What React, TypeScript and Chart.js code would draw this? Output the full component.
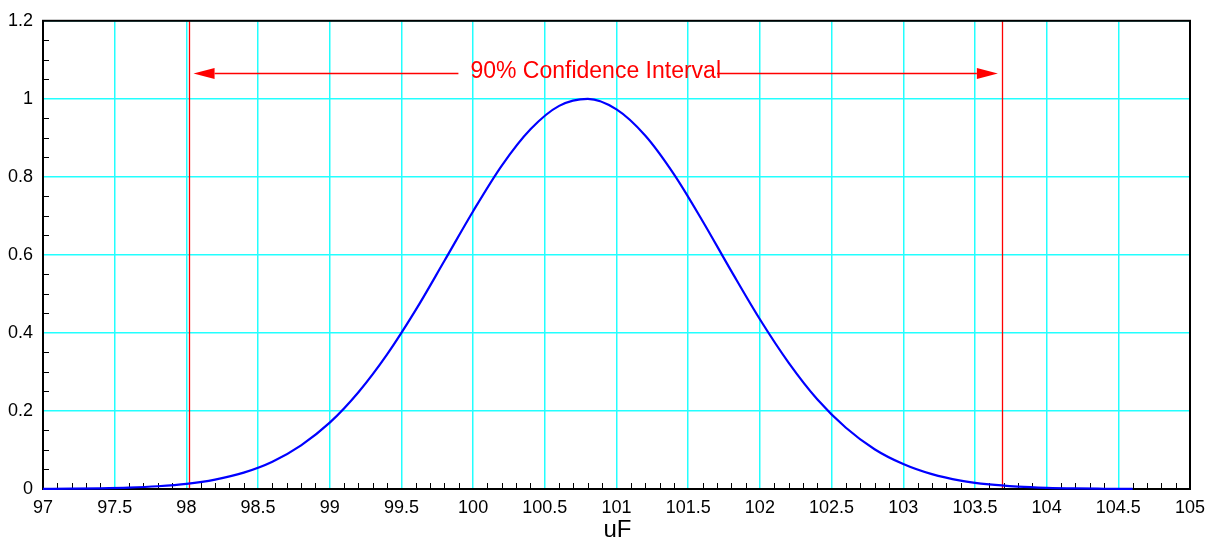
import React, { useEffect, useRef } from "react";
import { Chart, registerables } from "chart.js";

Chart.register(...registerables);

// ---- Data ----
const curveX = [
  97.0, 97.2, 97.4, 97.6, 97.8, 98.0, 98.2, 98.4, 98.6, 98.8,
  99.0, 99.2, 99.4, 99.6, 99.8, 100.0, 100.2, 100.4, 100.6, 100.8,
  101.0, 101.2, 101.4, 101.6, 101.8, 102.0, 102.2, 102.4, 102.6, 102.8,
  103.0, 103.2, 103.4, 103.6, 103.8, 104.0, 104.2, 104.4, 104.6,
];
const curveY = [
  0.0003, 0.0008, 0.0017, 0.0035, 0.007, 0.013, 0.024, 0.042, 0.07, 0.112,
  0.17, 0.248, 0.345, 0.459, 0.585, 0.712, 0.829, 0.922, 0.982, 1.0,
  0.973, 0.906, 0.807, 0.687, 0.559, 0.435, 0.324, 0.23, 0.157, 0.102,
  0.064, 0.038, 0.0215, 0.0117, 0.0061, 0.003, 0.0014, 0.0007, 0.0003,
];
const ciBounds = [98.02, 103.69];
const arrowTips = [98.05, 103.66];
const arrowLevel = [1.065];
const annotationText = "90% Confidence Interval";
const xAxisTitle = "uF";
const xTickValues = [97, 97.5, 98, 98.5, 99, 99.5, 100, 100.5, 101, 101.5, 102, 102.5, 103, 103.5, 104, 104.5, 105];
const yTickValues = [0, 0.2, 0.4, 0.6, 0.8, 1.0, 1.2];
const xMinorStep = 0.1;
const yMinorStep = 0.05;

const FONT = "'Liberation Sans', Arial, Helvetica, sans-serif";
const RED = "#ff0000";

const overlayPlugin = {
  id: "overlay",
  beforeDatasetsDraw(chart: any) {
    const { ctx, chartArea, scales } = chart;
    const xs = scales.x;
    const ys = scales.y;
    const { left, right, top, bottom } = chartArea;
    ctx.save();

    // red CI lines
    ctx.strokeStyle = RED;
    ctx.lineWidth = 1.3;
    ciBounds.forEach((v) => {
      const px = Math.round(xs.getPixelForValue(v)) + 0.5;
      ctx.beginPath();
      ctx.moveTo(px, top);
      ctx.lineTo(px, bottom);
      ctx.stroke();
    });

    // annotation arrows and text
    const ay = Math.round(ys.getPixelForValue(arrowLevel[0])) + 0.5;
    const lx = xs.getPixelForValue(arrowTips[0]);
    const rx = xs.getPixelForValue(arrowTips[1]);
    const cx = (lx + rx) / 2;
    ctx.font = "23px " + FONT;
    const tw = ctx.measureText(annotationText).width;
    const headLen = 21;
    const headHalf = 5.5;
    ctx.strokeStyle = RED;
    ctx.lineWidth = 1.4;
    ctx.beginPath();
    ctx.moveTo(lx + headLen, ay);
    ctx.lineTo(cx - tw / 2 - 12, ay);
    ctx.stroke();
    ctx.beginPath();
    ctx.moveTo(cx + tw / 2 - 4, ay);
    ctx.lineTo(rx - headLen, ay);
    ctx.stroke();
    ctx.fillStyle = RED;
    ctx.beginPath();
    ctx.moveTo(lx, ay);
    ctx.lineTo(lx + headLen, ay - headHalf);
    ctx.lineTo(lx + headLen, ay + headHalf);
    ctx.closePath();
    ctx.fill();
    ctx.beginPath();
    ctx.moveTo(rx, ay);
    ctx.lineTo(rx - headLen, ay - headHalf);
    ctx.lineTo(rx - headLen, ay + headHalf);
    ctx.closePath();
    ctx.fill();
    ctx.textAlign = "center";
    ctx.textBaseline = "alphabetic";
    ctx.fillText(annotationText, cx, ay + 4.5);

    // frame
    ctx.strokeStyle = "#000000";
    ctx.lineWidth = 2;
    ctx.strokeRect(left, top, right - left, bottom - top);

    // minor ticks (inward)
    ctx.lineWidth = 1;
    const isMajor = (v: number, arr: number[]) => arr.some((m) => Math.abs(m - v) < 1e-6);
    const xMin = xTickValues[0];
    const xMax = xTickValues[xTickValues.length - 1];
    const nX = Math.round((xMax - xMin) / xMinorStep);
    for (let i = 1; i < nX; i++) {
      const v = xMin + i * xMinorStep;
      if (isMajor(v, xTickValues)) continue;
      const px = Math.round(xs.getPixelForValue(v)) + 0.5;
      ctx.beginPath();
      ctx.moveTo(px, bottom);
      ctx.lineTo(px, bottom - 6);
      ctx.stroke();
    }
    const yMin = yTickValues[0];
    const yMax = yTickValues[yTickValues.length - 1];
    const nY = Math.round((yMax - yMin) / yMinorStep);
    for (let i = 1; i < nY; i++) {
      const v = yMin + i * yMinorStep;
      if (isMajor(v, yTickValues)) continue;
      const py = Math.round(ys.getPixelForValue(v)) + 0.5;
      ctx.beginPath();
      ctx.moveTo(left, py);
      ctx.lineTo(left + 6, py);
      ctx.stroke();
    }

    // x axis title
    ctx.fillStyle = "#000000";
    ctx.font = "24px " + FONT;
    ctx.textAlign = "center";
    ctx.textBaseline = "alphabetic";
    ctx.fillText(xAxisTitle, (left + right) / 2 + 1, 537);

    ctx.restore();
  },
};

export default function App() {
  const canvasRef = useRef<HTMLCanvasElement | null>(null);

  useEffect(() => {
    if (!canvasRef.current) return;
    const points = curveX.map((x, i) => ({ x, y: curveY[i] }));
    const chart = new Chart(canvasRef.current, {
      type: "line",
      data: {
        datasets: [
          {
            data: points,
            borderColor: "#0000ff",
            borderWidth: 2.2,
            pointRadius: 0,
            fill: false,
            cubicInterpolationMode: "monotone",
            clip: false,
          } as any,
        ],
      },
      options: {
        responsive: false,
        animation: false,
        events: [],
        layout: { padding: { top: 19, right: 27, left: 0, bottom: 0 } },
        plugins: {
          legend: { display: false },
          tooltip: { enabled: false },
          title: { display: false },
        },
        scales: {
          x: {
            type: "linear",
            min: xTickValues[0],
            max: xTickValues[xTickValues.length - 1],
            afterBuildTicks: (s: any) => {
              s.ticks = xTickValues.map((v) => ({ value: v }));
            },
            afterFit: (s: any) => {
              s.height = 55;
            },
            ticks: {
              autoSkip: false,
              maxRotation: 0,
              padding: 8,
              color: "#000000",
              font: { family: FONT, size: 18 },
              callback: (v: any) => String(v),
            },
            grid: { color: "#22ffff", lineWidth: 1.5, drawTicks: false },
            border: { display: false },
          },
          y: {
            type: "linear",
            min: yTickValues[0],
            max: yTickValues[yTickValues.length - 1],
            afterBuildTicks: (s: any) => {
              s.ticks = yTickValues.map((v) => ({ value: v }));
            },
            afterFit: (s: any) => {
              s.width = 43;
            },
            ticks: {
              autoSkip: false,
              padding: 10,
              color: "#000000",
              font: { family: FONT, size: 18 },
              callback: (v: any) => String(v),
            },
            grid: { color: "#22ffff", lineWidth: 1.5, drawTicks: false },
            border: { display: false },
          },
        },
      } as any,
      plugins: [overlayPlugin],
    });
    return () => chart.destroy();
  }, []);

  return (
    <div style={{ position: "absolute", left: 0, top: 0, width: 1217, height: 544, background: "#ffffff" }}>
      <canvas ref={canvasRef} width={1217} height={544} style={{ display: "block" }} />
    </div>
  );
}
